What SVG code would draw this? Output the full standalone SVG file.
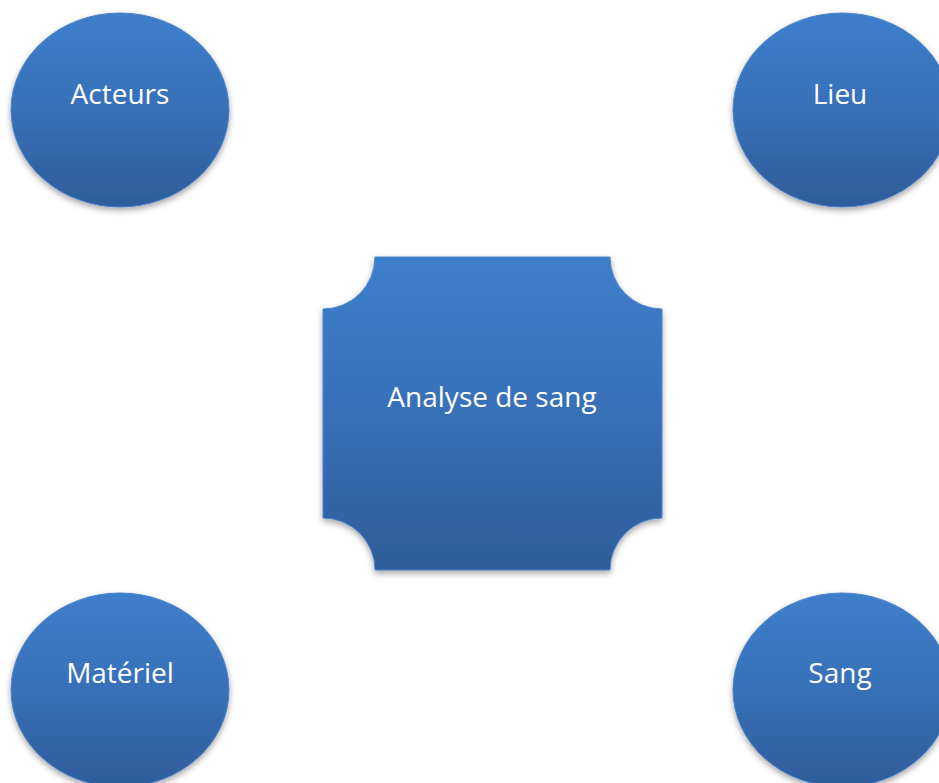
<svg xmlns="http://www.w3.org/2000/svg" width="939" height="783" viewBox="0 0 939 783">
<style>
.shape{fill:url(#g);stroke:#4a84cc;stroke-width:1;filter:url(#sh)}
.lbl{font-family:"Open Sans","Noto Sans","Liberation Sans",sans-serif;font-size:28px;fill:#ffffff;text-anchor:middle}
</style>
<defs>
<linearGradient id="g" x1="0" y1="0" x2="0" y2="1">
<stop offset="0" stop-color="#3d7ecb"/>
<stop offset="0.5" stop-color="#3870b8"/>
<stop offset="1" stop-color="#2e5c9a"/>
</linearGradient>
<filter id="sh" x="-20%" y="-20%" width="140%" height="150%">
<feDropShadow dx="0" dy="3" stdDeviation="3" flood-color="#000" flood-opacity="0.35"/>
</filter>
</defs>
<rect width="939" height="783" fill="#fff"/>
<g id="connectors"></g>
<g id="acteurs"><ellipse class="shape" cx="120" cy="110" rx="109" ry="97"/><text class="lbl" x="120" y="104">Acteurs</text></g>
<g id="lieu"><ellipse class="shape" cx="842" cy="110" rx="109" ry="97"/><text class="lbl" x="840" y="104">Lieu</text></g>
<g id="materiel"><ellipse class="shape" cx="120" cy="690" rx="109" ry="97"/><text class="lbl" x="120" y="683">Matériel</text></g>
<g id="sang"><ellipse class="shape" cx="842" cy="690" rx="109" ry="97"/><text class="lbl" x="840" y="683">Sang</text></g>
<g id="analyse"><path class="shape" d="M375 257 H610 A52 52 0 0 0 662 309 V518 A52 52 0 0 0 610 570 H375 A52 52 0 0 0 323 518 V309 A52 52 0 0 0 375 257 Z"/><text class="lbl" x="492" y="407">Analyse de sang</text></g>
</svg>
